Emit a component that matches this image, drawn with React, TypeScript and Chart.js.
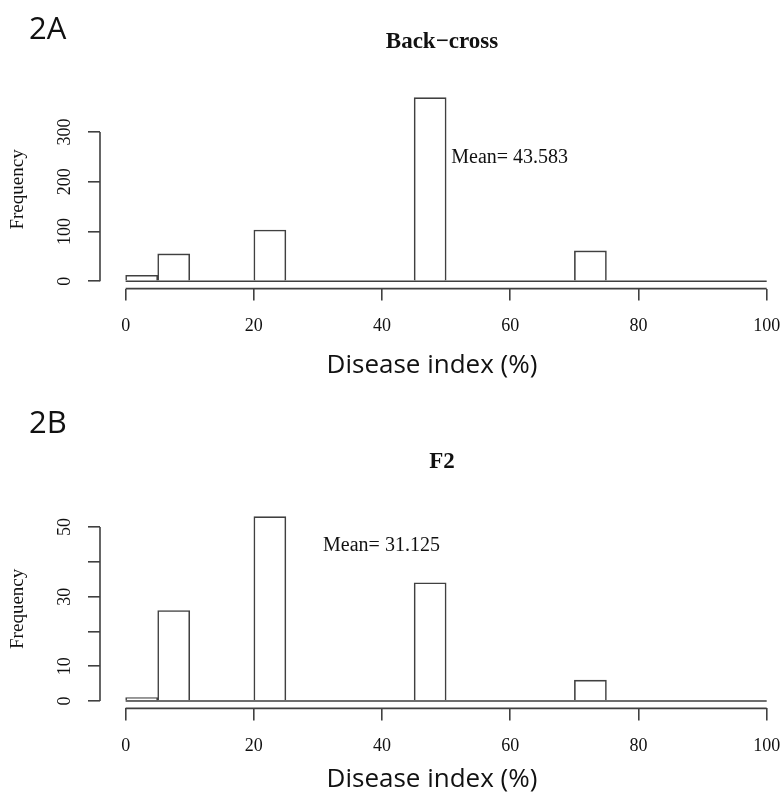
import React, { useEffect, useRef } from 'react';
import { Chart, registerables } from 'chart.js';

Chart.register(...registerables);

// ---- data ----
const binStarts = [0, 5, 10, 15, 20, 25, 30, 35, 40, 45, 50, 55, 60, 65, 70, 75, 80, 85, 90, 95];
const binWidth = 5;
const backcrossCounts = [12, 55, 0, 0, 103, 0, 0, 0, 0, 369, 0, 0, 0, 0, 61, 0, 0, 0, 0, 0];
const f2Counts = [1, 26, 0, 0, 53, 0, 0, 0, 0, 34, 0, 0, 0, 0, 6, 0, 0, 0, 0, 0];
const xTicks = [0, 20, 40, 60, 80, 100];
const backcrossYTicks = [0, 100, 200, 300];
const backcrossYLabels = ['0', '100', '200', '300'];
const f2YTicks = [0, 10, 20, 30, 40, 50];
const f2YLabels = ['0', '10', '', '30', '', '50'];
const backcrossMean = '43.583';
const f2Mean = '31.125';
const xLabel = 'Disease index (%)';
const yLabel = 'Frequency';

const serif = "'Liberation Serif', 'Times New Roman', serif";
const sans = "'Open Sans', 'Noto Sans', sans-serif";
const lineColor = '#404040';
const textColor = '#111';

type PanelProps = {
  tag: string;
  title: string;
  counts: number[];
  yTicks: number[];
  yLabels: string[];
  mean: string;
  meanAt: { x: number; y: number };
  height: number;
  titlePadTop: number;
  titlePadBottom: number;
  xScaleHeight: number;
  xTickPad: number;
  yTickPad: number;
  tagY: number;
  xLabelY: number;
};

function Panel(p: PanelProps) {
  const ref = useRef<HTMLCanvasElement | null>(null);
  useEffect(() => {
    if (!ref.current) return;
    const ymax = Math.max(...p.counts);
    const overlay = {
      id: 'overlay',
      afterDraw(chart: any) {
        const ctx = chart.ctx;
        const xs = chart.scales.x;
        const ys = chart.scales.y;
        const area = chart.chartArea;
        ctx.save();
        ctx.strokeStyle = lineColor;
        ctx.lineWidth = 1.6;
        ctx.beginPath();
        // histogram baseline
        const y0 = ys.getPixelForValue(0);
        ctx.moveTo(xs.getPixelForValue(binStarts[0]), y0);
        ctx.lineTo(xs.getPixelForValue(binStarts[binStarts.length - 1] + binWidth), y0);
        // x axis line
        ctx.moveTo(xs.getPixelForValue(xTicks[0]), area.bottom);
        ctx.lineTo(xs.getPixelForValue(xTicks[xTicks.length - 1]), area.bottom);
        // y axis line
        ctx.moveTo(area.left, ys.getPixelForValue(p.yTicks[0]));
        ctx.lineTo(area.left, ys.getPixelForValue(p.yTicks[p.yTicks.length - 1]));
        ctx.stroke();
        // mean annotation
        ctx.fillStyle = textColor;
        ctx.font = `20px ${serif}`;
        ctx.textAlign = 'left';
        ctx.textBaseline = 'middle';
        ctx.fillText('Mean= ' + p.mean, xs.getPixelForValue(p.meanAt.x), ys.getPixelForValue(p.meanAt.y));
        // x axis label
        ctx.font = `26px ${sans}`;
        ctx.textAlign = 'center';
        ctx.fillText(xLabel, 432, p.xLabelY);
        // panel tag
        ctx.font = `31px ${sans}`;
        ctx.textAlign = 'left';
        ctx.fillText(p.tag, 29, p.tagY);
        ctx.restore();
      },
    };
    const chart = new Chart(ref.current, {
      type: 'bar',
      data: {
        datasets: [
          {
            data: binStarts.map((s, i) => ({ x: s + binWidth / 2, y: p.counts[i] })),
            backgroundColor: '#ffffff',
            borderColor: lineColor,
            borderWidth: 1.6,
            barPercentage: 1,
            categoryPercentage: 1,
          } as any,
        ],
      },
      options: {
        animation: false,
        responsive: false,
        devicePixelRatio: 1,
        layout: { padding: 0 },
        plugins: {
          legend: { display: false },
          tooltip: { enabled: false },
          title: {
            display: true,
            text: p.title,
            fullSize: false,
            color: textColor,
            font: { family: serif, size: 23, weight: 'bold' },
            padding: { top: p.titlePadTop, bottom: p.titlePadBottom },
          },
        },
        scales: {
          x: {
            type: 'linear',
            min: -4,
            max: 102.7,
            offset: false,
            grid: { offset: false, drawOnChartArea: false, drawTicks: true, tickLength: 12, color: lineColor, lineWidth: 1.6 },
            border: { display: false },
            ticks: {
              font: { family: serif, size: 18 },
              color: textColor,
              padding: p.xTickPad,
              maxRotation: 0,
              autoSkip: false,
              callback: (v: any) => String(v),
            },
            afterBuildTicks: (s: any) => {
              s.ticks = xTicks.map((v) => ({ value: v }));
            },
            afterFit: (s: any) => {
              s.height = p.xScaleHeight;
              s.paddingLeft = 0;
              s.paddingRight = 0;
            },
          },
          y: {
            type: 'linear',
            min: -0.04 * ymax,
            max: 1.04 * ymax,
            grid: { drawOnChartArea: false, drawTicks: true, tickLength: 12, color: lineColor, lineWidth: 1.6 },
            border: { display: false },
            ticks: {
              font: { family: serif, size: 18 },
              color: textColor,
              padding: p.yTickPad,
              crossAlign: 'center',
              minRotation: 90,
              maxRotation: 90,
              autoSkip: false,
              callback: (v: any) => {
                const i = p.yTicks.indexOf(Number(v));
                return i >= 0 ? p.yLabels[i] : '';
              },
            },
            title: {
              display: true,
              text: yLabel,
              color: textColor,
              font: { family: serif, size: 19 },
              padding: { top: 6.6, bottom: 0 },
            },
            afterBuildTicks: (s: any) => {
              s.ticks = p.yTicks.map((v) => ({ value: v }));
            },
            afterFit: (s: any) => {
              s.width = 100;
              s.paddingTop = 0;
              s.paddingBottom = 0;
            },
          },
        },
      } as any,
      plugins: [overlay],
    });
    return () => chart.destroy();
  }, []);
  return <canvas ref={ref} width={784} height={p.height} style={{ display: 'block' }} />;
}

export default function App() {
  return (
    <div style={{ position: 'absolute', left: 0, top: 0, width: 784, height: 793, background: '#fff' }}>
      <Panel
        tag="2A"
        title="Back−cross"
        counts={backcrossCounts}
        yTicks={backcrossYTicks}
        yLabels={backcrossYLabels}
        mean={backcrossMean}
        meanAt={{ x: 50.8, y: 248 }}
        height={396}
        titlePadTop={28}
        titlePadBottom={34.7}
        xScaleHeight={107.4}
        xTickPad={14.6}
        yTickPad={9.5}
        tagY={30}
        xLabelY={366}
      />
      <Panel
        tag="2B"
        title="F2"
        counts={f2Counts}
        yTicks={f2YTicks}
        yLabels={f2YLabels}
        mean={f2Mean}
        meanAt={{ x: 30.8, y: 44.6 }}
        height={397}
        titlePadTop={51.9}
        titlePadBottom={33.8}
        xScaleHeight={84.6}
        xTickPad={15.5}
        yTickPad={14}
        tagY={28}
        xLabelY={384}
      />
    </div>
  );
}
